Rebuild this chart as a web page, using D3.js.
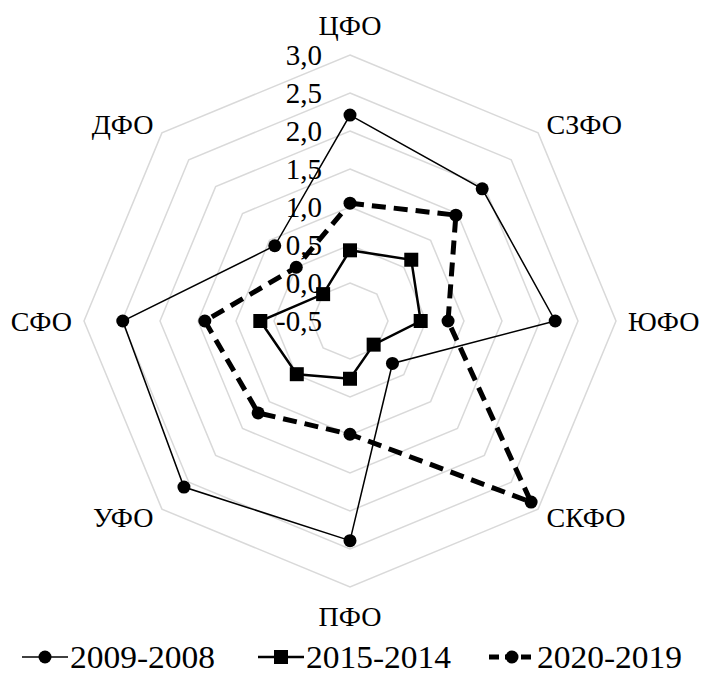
<!DOCTYPE html>
<html>
<head>
<meta charset="utf-8">
<script src="https://cdn.jsdelivr.net/npm/d3@7"></script>
<style>
  body { margin: 0; background: #fff; }
  text { font-family: 'Liberation Serif', 'Times New Roman', 'DejaVu Serif', serif; fill: #000; }
  .grid { fill: none; stroke: #d9d9d9; stroke-width: 1.5; }
</style>
</head>
<body>
<div id="chart"></div>
<script>
const width = 702
const height = 677

// data
const regions = ['ЦФО', 'СЗФО', 'ЮФО', 'СКФО', 'ПФО', 'УФО', 'СФО', 'ДФО']
const ticks = [-0.5, 0, 0.5, 1.0, 1.5, 2.0, 2.5, 3.0]
const seriesNames = ['2009-2008', '2015-2014', '2020-2019']
const s2009 = [2.21, 1.96, 2.2, 0.29, 2.39, 2.59, 2.49, 0.9]
const s2015 = [0.43, 0.64, 0.43, -0.06, 0.26, 0.49, 0.68, 0.0]
const s2020 = [1.05, 1.47, 0.79, 2.87, 0.99, 1.21, 1.41, 0.5]

const cx = 350, cy = 321, R = 266

const svg = d3.select('#chart')
  .append('svg')
  .attr('width', width)
  .attr('height', height)
  .attr('font-family', "'Liberation Serif', 'Times New Roman', serif")

const r = d3.scaleLinear().domain([-0.5, 3.0]).range([0, R])
const angle = d3.scalePoint().domain(regions).range([0, 2 * Math.PI * 7 / 8])
const pt = (name, v) => {
  const a = angle(name)
  return [cx + Math.sin(a) * r(v), cy - Math.cos(a) * r(v)]
}

// grid rings
ticks.slice(1).forEach(t => {
  svg.append('path')
    .attr('class', 'grid')
    .attr('d', d3.line()(regions.map(n => pt(n, t))) + 'Z')
})

// tick labels
svg.selectAll('.tick')
  .data(ticks)
  .enter()
    .append('text')
    .attr('class', 'tick')
    .attr('x', cx - 28)
    .attr('y', d => cy - r(d))
    .attr('dy', '0.35em')
    .attr('text-anchor', 'end')
    .style('font-size', '29px')
    .text(d => d3.format('.1f')(d).replace('.', ',').replace('−', '-'))

// category labels
regions.forEach(n => {
  const a = angle(n)
  const s = Math.sin(a), c = Math.cos(a)
  const x = cx + s * (R + 12)
  const y = cy - c * (R + 12)
  const anchor = s > 0.1 ? 'start' : s < -0.1 ? 'end' : 'middle'
  let dy = '0.35em'
  if (Math.abs(s) < 0.1) dy = c > 0 ? '-0.3em' : '0.95em'
  svg.append('text')
    .attr('x', x)
    .attr('y', y)
    .attr('dy', dy)
    .attr('text-anchor', anchor)
    .style('font-size', '28px')
    .text(n)
})

// series
const series = [
  { name: seriesNames[0], values: s2009, width: 1.5, dash: null, marker: 'circle' },
  { name: seriesNames[1], values: s2015, width: 2.5, dash: null, marker: 'square' },
  { name: seriesNames[2], values: s2020, width: 5, dash: '14,8', marker: 'circle' },
]

const drawMarker = (g, type, x, y) => {
  if (type === 'circle') {
    g.append('circle').attr('cx', x).attr('cy', y).attr('r', 6.5).attr('fill', '#000')
  } else {
    g.append('rect').attr('x', x - 7).attr('y', y - 7).attr('width', 14).attr('height', 14).attr('fill', '#000')
  }
}

series.forEach(s => {
  const g = svg.append('g')
  const pts = regions.map((n, i) => pt(n, s.values[i]))
  g.append('path')
    .attr('d', d3.line()(pts) + 'Z')
    .attr('fill', 'none')
    .attr('stroke', '#000')
    .attr('stroke-width', s.width)
    .attr('stroke-dasharray', s.dash)
  pts.forEach(p => drawMarker(g, s.marker, p[0], p[1]))
})

// legend
const legendX = [22, 258, 489]
const legendY = 657
series.forEach((s, i) => {
  const g = svg.append('g').attr('transform', 'translate(' + legendX[i] + ',' + legendY + ')')
  g.append('line')
    .attr('x1', 0).attr('x2', 46)
    .attr('y1', 0).attr('y2', 0)
    .attr('stroke', '#000')
    .attr('stroke-width', s.width)
    .attr('stroke-dasharray', s.dash ? '10,6' : null)
  drawMarker(g, s.marker, 23, 0)
  g.append('text')
    .attr('transform', 'translate(48,0) scale(1.08,1)')
    .attr('dy', '0.35em')
    .style('font-size', '31px')
    .text(s.name)
})
</script>
</body>
</html>
